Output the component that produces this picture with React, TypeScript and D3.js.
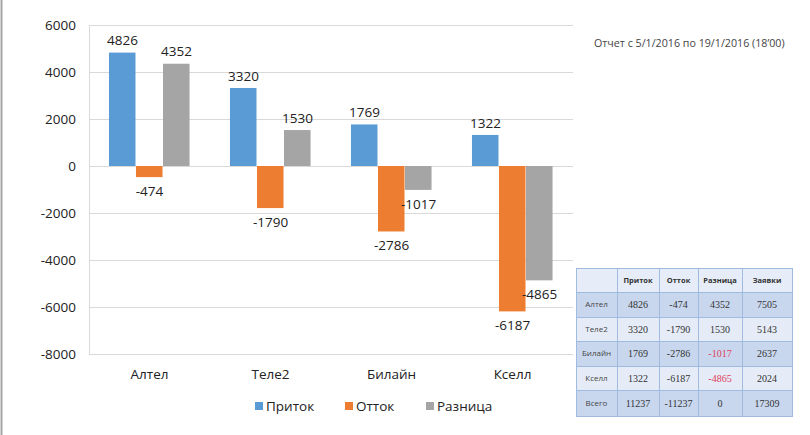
import React from "react";
import * as d3 from "d3";

const categories = ["Алтел", "Теле2", "Билайн", "Кселл"];
const seriesNames = ["Приток", "Отток", "Разница"];
const inflow = [4826, 3320, 1769, 1322];
const outflow = [-474, -1790, -2786, -6187];
const diff = [4352, 1530, -1017, -4865];
const requests = [7505, 5143, 2637, 2024];
const yTicks = [6000, 4000, 2000, 0, -2000, -4000, -6000, -8000];
const colors = ["#5b9bd5", "#ed7d31", "#a5a5a5"];
const tableRowNames = ["Алтел", "Теле2", "Билайн", "Кселл", "Всего"];
const reportText = "Отчет с 5/1/2016 по 19/1/2016 (18’00)";

const W = 810;
const H = 435;
const FONT = "'Open Sans', 'Noto Sans', sans-serif";

export default function App() {
  const series = [inflow, outflow, diff];
  const y = d3.scaleLinear().domain([-8000, 6000]).range([354, 25]);
  const x = d3
    .scaleBand<string>()
    .domain(categories)
    .range([89, 573])
    .paddingInner(0.33)
    .paddingOuter(0.165);
  const xs = d3.scaleBand<string>().domain(seriesNames).range([0, x.bandwidth()]);

  // table
  const colEdges = [576, 617, 659, 698, 742, 792];
  const rowEdges = [268, 292, 317, 341, 366, 390, 416];
  const totals = [d3.sum(inflow), d3.sum(outflow), d3.sum(diff), d3.sum(requests)];
  const tableRows: number[][] = categories
    .map((_, i) => [inflow[i], outflow[i], diff[i], requests[i]])
    .concat([totals]);
  const header = ["", ...seriesNames, "Заявки"];

  const legendX = [255, 345, 426];

  return (
    <svg
      width={W}
      height={H}
      style={{ position: "absolute", left: 0, top: 0, background: "#fff" }}
    >
      <rect x={0} y={0} width={W} height={H} fill="#fff" />
      <rect x={0.5} y={0} width={2} height={H} fill="#a6a6a6" />

      {/* gridlines */}
      {yTicks.map((t) => (
        <line
          key={t}
          x1={89}
          x2={573}
          y1={Math.round(y(t)) + 0.5}
          y2={Math.round(y(t)) + 0.5}
          stroke="#d9d9d9"
          strokeWidth={1}
        />
      ))}
      <line x1={89.5} x2={89.5} y1={25} y2={354} stroke="#d9d9d9" />

      {/* y tick labels */}
      {yTicks.map((t) => (
        <text
          key={"l" + t}
          x={76}
          y={y(t)}
          dy="0.35em"
          textAnchor="end"
          fontFamily={FONT}
          fontSize={13.5}
          fill="#222"
        >
          {t}
        </text>
      ))}

      {/* bars */}
      {series.map((vals, si) =>
        vals.map((v, ci) => {
          const bx = (x(categories[ci]) as number) + (xs(seriesNames[si]) as number);
          const bw = xs.bandwidth();
          const y0 = y(0);
          const yv = y(v);
          return (
            <g key={si + "-" + ci}>
              <rect
                x={bx}
                y={Math.min(y0, yv)}
                width={bw - 0.5}
                height={Math.abs(yv - y0)}
                fill={colors[si]}
              />
              <text
                x={bx + bw / 2}
                y={v >= 0 ? yv - 12 : yv + 14}
                dy="0.35em"
                textAnchor="middle"
                fontFamily={FONT}
                fontSize={13.5}
                fill="#222"
              >
                {v}
              </text>
            </g>
          );
        })
      )}

      {/* category labels */}
      {categories.map((c) => (
        <text
          key={c}
          x={(x(c) as number) + x.bandwidth() / 2}
          y={374}
          dy="0.35em"
          textAnchor="middle"
          fontFamily={FONT}
          fontSize={13.5}
          fill="#222"
        >
          {c}
        </text>
      ))}

      {/* legend */}
      {seriesNames.map((s, i) => (
        <g key={s}>
          <rect x={legendX[i]} y={402} width={8} height={8} fill={colors[i]} />
          <text
            x={legendX[i] + 11}
            y={406}
            dy="0.35em"
            fontFamily={FONT}
            fontSize={13.5}
            fill="#222"
          >
            {s}
          </text>
        </g>
      ))}

      {/* report text */}
      <text x={594} y={43} dy="0.35em" fontFamily={FONT} fontSize={10.7} fill="#444">
        {reportText}
      </text>

      {/* table */}
      <g>
        {rowEdges.slice(0, -1).map((ry, ri) => {
          const fill = ri === 0 ? "#e6edf8" : ri % 2 === 1 ? "#c8d7ee" : "#e5ecf7";
          return (
            <rect
              key={"r" + ri}
              x={colEdges[0]}
              y={ry}
              width={colEdges[colEdges.length - 1] - colEdges[0]}
              height={rowEdges[ri + 1] - ry}
              fill={fill}
            />
          );
        })}
        {colEdges.map((cx, i) => (
          <line
            key={"c" + i}
            x1={cx + 0.5}
            x2={cx + 0.5}
            y1={rowEdges[0]}
            y2={rowEdges[rowEdges.length - 1]}
            stroke="#9fbbe0"
          />
        ))}
        {rowEdges.map((ry, i) => (
          <line
            key={"h" + i}
            x1={colEdges[0]}
            x2={colEdges[colEdges.length - 1] + 1}
            y1={ry + 0.5}
            y2={ry + 0.5}
            stroke="#9fbbe0"
          />
        ))}
        {header.map((h, i) => (
          <text
            key={"th" + i}
            x={(colEdges[i] + colEdges[i + 1]) / 2}
            y={(rowEdges[0] + rowEdges[1]) / 2}
            dy="0.35em"
            textAnchor="middle"
            fontFamily={FONT}
            fontSize={7.5}
            fontWeight="bold"
            fill="#333"
          >
            {h}
          </text>
        ))}
        {tableRows.map((row, ri) => {
          const cy = (rowEdges[ri + 1] + rowEdges[ri + 2]) / 2;
          return (
            <g key={"tr" + ri}>
              <text
                x={(colEdges[0] + colEdges[1]) / 2}
                y={cy}
                dy="0.35em"
                textAnchor="middle"
                fontFamily={FONT}
                fontSize={8}
                fill="#444"
              >
                {tableRowNames[ri]}
              </text>
              {row.map((v, ci) => (
                <text
                  key={ci}
                  x={(colEdges[ci + 1] + colEdges[ci + 2]) / 2}
                  y={cy}
                  dy="0.35em"
                  textAnchor="middle"
                  fontFamily="'Liberation Serif', 'DejaVu Serif', serif"
                  fontSize={10}
                  fill={ci === 2 && v < 0 ? "#e0405a" : "#333"}
                >
                  {v}
                </text>
              ))}
            </g>
          );
        })}
      </g>
    </svg>
  );
}
